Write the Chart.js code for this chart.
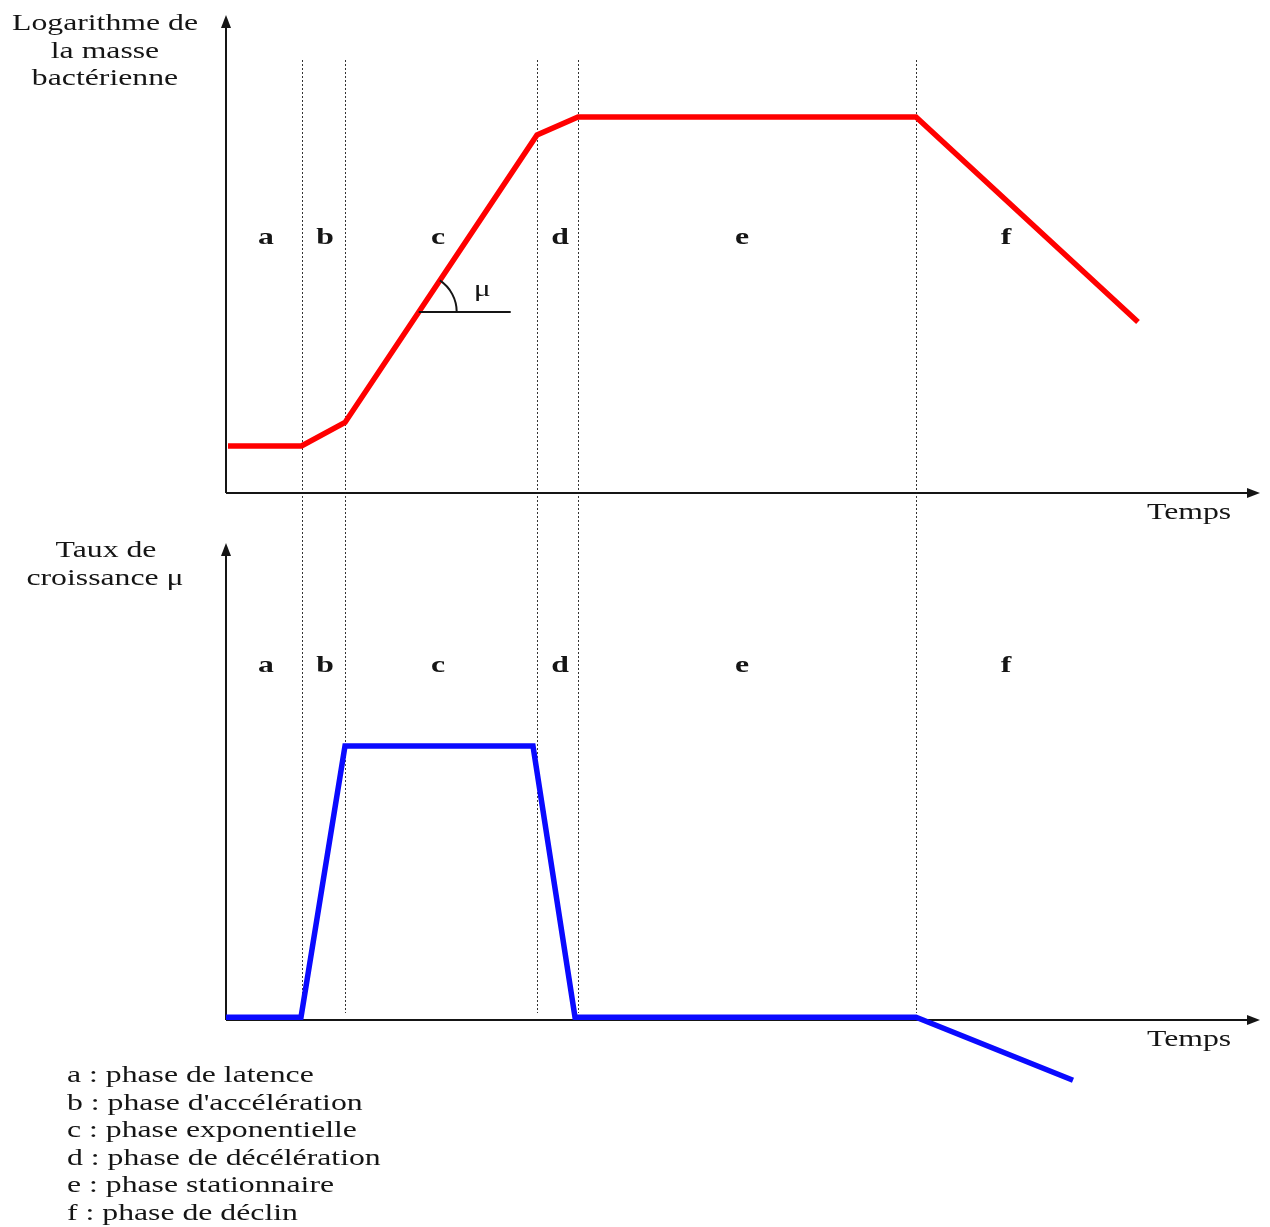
<!DOCTYPE html>
<html lang="fr">
<head>
<meta charset="utf-8">
<script src="https://cdn.jsdelivr.net/npm/chart.js@4.4.1/dist/chart.umd.min.js"></script>
<style>
  html, body { margin: 0; padding: 0; background: #fff; }
  #wrap { width: 1270px; height: 1227px; }
</style>
</head>
<body>
<div id="wrap"><canvas id="growth" width="1270" height="1227"></canvas></div>
<script>
// time in arbitrary units, limits between the phases a|b|c|d|e|f
var phaseLimits = [7.55, 11.9, 31.05, 35.2, 69.0];
var phaseLetters = ['a', 'b', 'c', 'd', 'e', 'f'];
var phaseLetterTimes = [4.0, 9.9, 21.2, 33.4, 51.6, 78.0];
var phaseNames = [
    'a : phase de latence',
    "b : phase d'accélération",
    'c : phase exponentielle',
    'd : phase de décélération',
    'e : phase stationnaire',
    'f : phase de déclin'
];

// top curve: log of the bacterial mass
var massTimes = [0.2, 7.55, 11.9, 31.1, 35.2, 69.0, 91.2];
var massValues = [1.0, 1.0, 1.5, 7.62, 8.0, 8.0, 3.64];

// bottom curve: growth rate mu
var rateTimes = [0, 7.5, 11.9, 30.7, 34.9, 69.0, 84.7];
var rateValues = [0.01, 0.01, 1.0, 1.0, 0.01, 0.01, -0.22];

// level (log mass) where the mu angle is marked on the exponential part
var muLevel = 3.85;

// page layout (pixels)
var W = 1270, H = 1227;
var axisLeft = 226, axisRight = 1260;
var topAxisY = 493, topAxisTip = 15;
var botAxisY = 1020, botAxisTip = 543;
var massPx = 47, ratePx = 274;   // pixels per unit
var SX = 1.38;                    // text is stretched horizontally in the original
var ink = '#151515';

function pts(xs, ys) {
    return xs.map(function (x, i) { return { x: x, y: ys[i] }; });
}

function stretchText(ctx, txt, x, y, align) {
    ctx.save();
    ctx.translate(x, y);
    ctx.scale(SX, 1);
    ctx.textAlign = align || 'left';
    ctx.fillText(txt, 0, 0);
    ctx.restore();
}

function arrowAxes(ctx, yAxis, tipY) {
    ctx.save();
    ctx.strokeStyle = ink;
    ctx.fillStyle = ink;
    ctx.lineWidth = 2;
    ctx.beginPath();
    ctx.moveTo(axisLeft, yAxis);
    ctx.lineTo(axisRight - 10, yAxis);
    ctx.moveTo(axisLeft, yAxis);
    ctx.lineTo(axisLeft, tipY + 10);
    ctx.stroke();
    ctx.beginPath();
    ctx.moveTo(axisRight, yAxis);
    ctx.lineTo(axisRight - 13, yAxis - 5);
    ctx.lineTo(axisRight - 13, yAxis + 5);
    ctx.closePath();
    ctx.fill();
    ctx.beginPath();
    ctx.moveTo(axisLeft, tipY);
    ctx.lineTo(axisLeft - 5, tipY + 13);
    ctx.lineTo(axisLeft + 5, tipY + 13);
    ctx.closePath();
    ctx.fill();
    ctx.restore();
}

var decorPlugin = {
    id: 'decor',
    beforeDatasetsDraw: function (chart) {
        var ctx = chart.ctx;
        var xs = chart.scales.x;
        // dotted phase limits, across both plots
        ctx.save();
        ctx.strokeStyle = '#333';
        ctx.lineWidth = 1;
        ctx.setLineDash([2, 2]);
        phaseLimits.forEach(function (t) {
            var px = Math.round(xs.getPixelForValue(t)) + 0.5;
            ctx.beginPath();
            ctx.moveTo(px, 60);
            ctx.lineTo(px, 1013);
            ctx.stroke();
        });
        ctx.restore();
        arrowAxes(ctx, chart.scales.yMass.getPixelForValue(0), topAxisTip);
        arrowAxes(ctx, chart.scales.yRate.getPixelForValue(0), botAxisTip);
    },
    afterDatasetsDraw: function (chart) {
        var ctx = chart.ctx;
        var xs = chart.scales.x;
        var ym = chart.scales.yMass;
        var yr = chart.scales.yRate;

        // mu angle on the exponential phase
        var ax = xs.getPixelForValue(massTimes[2]), ay = ym.getPixelForValue(massValues[2]);
        var bx = xs.getPixelForValue(massTimes[3]), by = ym.getPixelForValue(massValues[3]);
        var ly = ym.getPixelForValue(muLevel);
        var cx = ax + (bx - ax) * (ly - ay) / (by - ay);
        var ang = Math.atan2(by - ay, bx - ax);
        ctx.save();
        ctx.strokeStyle = ink;
        ctx.lineWidth = 2;
        ctx.beginPath();
        ctx.moveTo(cx, ly);
        ctx.lineTo(cx + 92, ly);
        ctx.stroke();
        ctx.beginPath();
        ctx.arc(cx, ly, 38, ang, 0);
        ctx.stroke();
        ctx.fillStyle = ink;
        ctx.font = '23px "Liberation Serif", serif';
        stretchText(ctx, 'μ', cx + 55, ly - 16, 'left');

        // phase letters, in both plots
        ctx.font = 'bold 23px "Liberation Serif", serif';
        phaseLetters.forEach(function (l, i) {
            var px = xs.getPixelForValue(phaseLetterTimes[i]);
            stretchText(ctx, l, px, 243.5, 'center');
            stretchText(ctx, l, px, 671.5, 'center');
        });

        // axis titles
        ctx.font = '23px "Liberation Serif", serif';
        stretchText(ctx, 'Logarithme de', 105, 30, 'center');
        stretchText(ctx, 'la masse', 105, 57.5, 'center');
        stretchText(ctx, 'bactérienne', 105, 85, 'center');
        stretchText(ctx, 'Taux de', 106, 557, 'center');
        stretchText(ctx, 'croissance μ', 105, 585, 'center');
        stretchText(ctx, 'Temps', 1147, ym.getPixelForValue(0) + 25.5, 'left');
        stretchText(ctx, 'Temps', 1147, yr.getPixelForValue(0) + 26, 'left');

        // key of the phases
        phaseNames.forEach(function (s, i) {
            stretchText(ctx, s, 67, 1082 + 27.6 * i, 'left');
        });
        ctx.restore();
    }
};

var massMax = topAxisY / massPx;
var rateMax = botAxisY / ratePx;

new Chart(document.getElementById('growth'), {
    type: 'line',
    data: {
        datasets: [{
            label: 'Logarithme de la masse bactérienne',
            data: pts(massTimes, massValues),
            yAxisID: 'yMass',
            borderColor: '#ff0000',
            borderWidth: 5.5,
            pointRadius: 0,
            tension: 0,
            fill: false
        }, {
            label: 'Taux de croissance μ',
            data: pts(rateTimes, rateValues),
            yAxisID: 'yRate',
            borderColor: '#0a0aff',
            borderWidth: 5.5,
            pointRadius: 0,
            tension: 0,
            fill: false
        }]
    },
    options: {
        responsive: false,
        animation: false,
        layout: { padding: { left: axisLeft, right: W - axisRight, top: 0, bottom: 0 } },
        plugins: {
            legend: { display: false },
            title: { display: false },
            tooltip: { enabled: false }
        },
        scales: {
            x: {
                type: 'linear',
                display: false,
                min: 0,
                max: (axisRight - axisLeft) / 10
            },
            yMass: {
                type: 'linear',
                display: false,
                max: massMax,
                min: massMax - H / massPx
            },
            yRate: {
                type: 'linear',
                display: false,
                max: rateMax,
                min: rateMax - H / ratePx
            }
        }
    },
    plugins: [decorPlugin]
});
</script>
</body>
</html>
